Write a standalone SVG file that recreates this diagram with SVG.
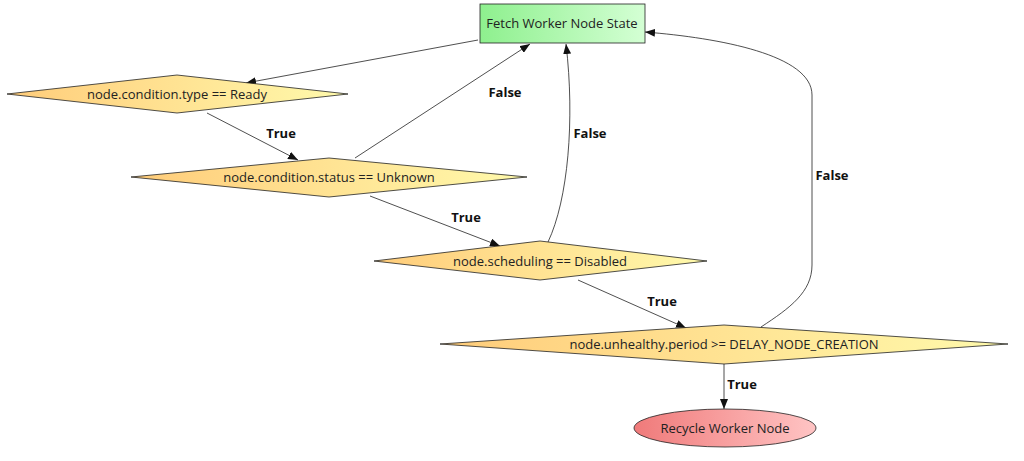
<svg xmlns="http://www.w3.org/2000/svg" width="1024" height="461" viewBox="0 0 1024 461">
<style>
text{font-family:"Open Sans","Noto Sans",sans-serif;font-size:13px;fill:#222;text-anchor:middle;dominant-baseline:central}
.lbl{font-weight:bold;fill:#111}
.edge{fill:none;stroke:#222;stroke-width:0.8;marker-end:url(#ah)}
.dia{fill:url(#gy);stroke:#222;stroke-width:0.8}
</style>
<defs>
<linearGradient id="gg" x1="0" x2="1" y1="0" y2="0"><stop offset="0" stop-color="#8ef08e"/><stop offset="1" stop-color="#d4ffd4"/></linearGradient>
<linearGradient id="gy" x1="0" x2="1" y1="0" y2="0"><stop offset="0" stop-color="#ffcc7a"/><stop offset="1" stop-color="#fffaac"/></linearGradient>
<linearGradient id="gr" x1="0" x2="1" y1="0" y2="0"><stop offset="0" stop-color="#f07a7a"/><stop offset="1" stop-color="#ffc4c4"/></linearGradient>
<marker id="ah" markerWidth="10" markerHeight="8" refX="10" refY="4" orient="auto" markerUnits="userSpaceOnUse"><path d="M0,0 L10,4 L0,8 Z" fill="#111"/></marker>
</defs>
<g id="connectors">
<path class="edge" d="M478,40 L246,83"/>
<path class="edge" d="M207,113 L298,160"/>
<text class="lbl" x="281" y="133">True</text>
<path class="edge" d="M355,158 L530,44"/>
<text class="lbl" x="505" y="92">False</text>
<path class="edge" d="M370,196 L500,246"/>
<text class="lbl" x="466" y="217">True</text>
<path class="edge" d="M548,242 C568,200 575,120 566,44"/>
<text class="lbl" x="590" y="133">False</text>
<path class="edge" d="M578,280 L686,328"/>
<text class="lbl" x="662" y="301">True</text>
<path class="edge" d="M761,327 C790,308 812,292 812,265 L812,95 C812,55 720,38 645,32"/>
<text class="lbl" x="832" y="175">False</text>
<path class="edge" d="M724,364 L724,409"/>
<text class="lbl" x="742" y="384">True</text>
</g>
<g id="fetch"><rect x="480" y="4" width="165" height="39" fill="url(#gg)" stroke="#222" stroke-width="0.8"/><text x="562" y="23">Fetch Worker Node State</text></g>
<g id="d1"><polygon class="dia" points="7,94 177,75 348,94 177,113"/><text x="177" y="94">node.condition.type == Ready</text></g>
<g id="d2"><polygon class="dia" points="131,177 329,158 527,177 329,197"/><text x="329" y="177">node.condition.status == Unknown</text></g>
<g id="d3"><polygon class="dia" points="374,261 540,241 707,261 540,280"/><text x="540" y="261">node.scheduling == Disabled</text></g>
<g id="d4"><polygon class="dia" points="440,344 724,325 1008,344 724,364"/><text x="724" y="344">node.unhealthy.period &gt;= DELAY_NODE_CREATION</text></g>
<g id="recycle"><ellipse cx="725" cy="428" rx="91" ry="19" fill="url(#gr)" stroke="#222" stroke-width="0.8"/><text x="725" y="428">Recycle Worker Node</text></g>
</svg>
